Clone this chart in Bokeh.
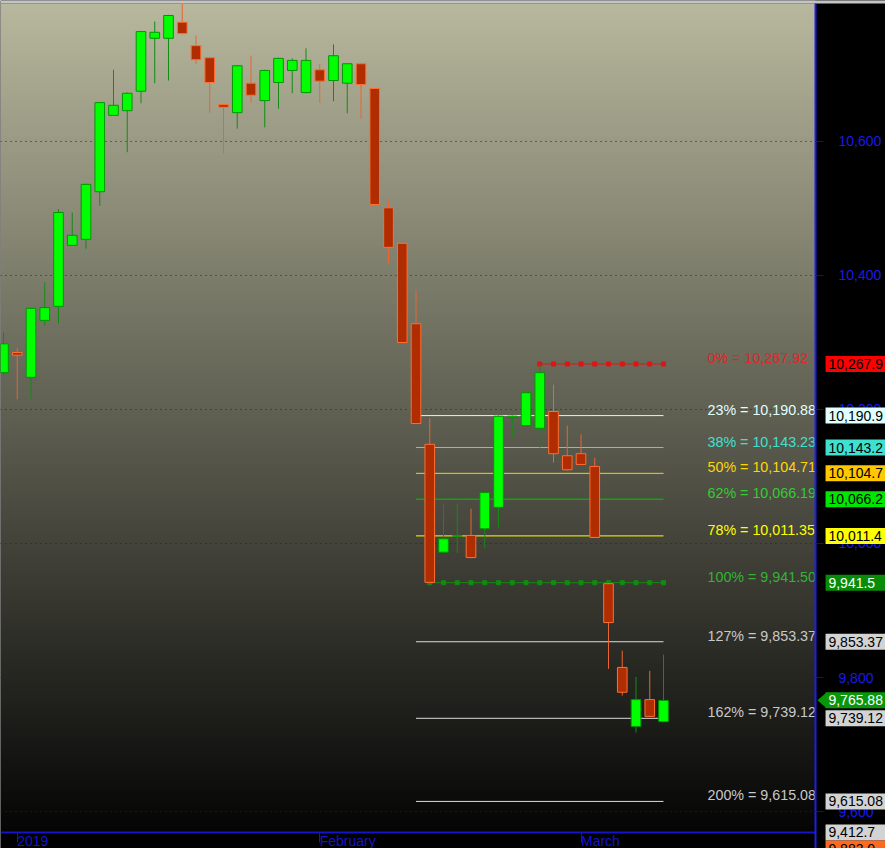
import numpy as np
from bokeh.plotting import figure
from bokeh.models import (Range1d, FixedTicker, NumeralTickFormatter, LinearAxis,
                          ColumnDataSource, Grid)
from bokeh.core.properties import value
from bokeh.embed import file_html
from bokeh.resources import INLINE

# ---------------- data ----------------
opens = [10255, 10285, 10248, 10333, 10354, 10445, 10454, 10525, 10639, 10646,
         10675, 10754, 10754, 10778, 10743, 10725, 10655, 10643, 10687, 10661,
         10688, 10706, 10673, 10707, 10691, 10687, 10716, 10679, 10501, 10448,
         10328, 10148, 9987, 10011, 10012, 10022, 10054, 10188, 10176, 10172,
         10197, 10131, 10134, 10115, 9940, 9815, 9727, 9767, 9734]
highs = [10315, 10292, 10352, 10390, 10499, 10494, 10537, 10659, 10707, 10673,
         10765, 10779, 10789, 10815, 10758, 10726, 10656, 10714, 10728, 10707,
         10725, 10724, 10739, 10716, 10745, 10717, 10717, 10680, 10512, 10449,
         10378, 10187, 10060, 10060, 10052, 10077, 10191, 10191, 10226, 10267.92,
         10237, 10176, 10163, 10128, 9941, 9840, 9801, 9810, 9834]
lows = [10251, 10215, 10216, 10325, 10328, 10444, 10440, 10504, 10638, 10584,
        10657, 10687, 10691, 10760, 10716, 10643, 10582, 10619, 10658, 10621,
        10649, 10672, 10672, 10658, 10660, 10642, 10634, 10505, 10418, 10299,
        10178, 9941.5, 9986, 9986, 9978, 9993, 10024, 10157, 10175, 10143,
        10121, 10109, 10117, 10008, 9813, 9773, 9718, 9741, 9733]
closes = [10298, 10281, 10351, 10352, 10494, 10460, 10536, 10658, 10654, 10672,
          10764, 10763, 10788, 10761, 10722, 10688, 10651, 10713, 10669, 10706,
          10724, 10721, 10721, 10690, 10728, 10716, 10685, 10506, 10442, 10300,
          10179, 9942, 10007, 10011.5, 9979, 10076, 10190, 10190, 10225, 10255,
          10134, 10110, 10118, 10009, 9882, 9778, 9767, 9742, 9765.88]

month_ticks = [1, 23, 42]
month_labels = ["2019", "February", "March"]

price_ticks = [9600, 9800, 10000, 10200, 10400, 10600]

fib_pcts = ["0%", "23%", "38%", "50%", "62%", "78%", "100%", "127%", "162%", "200%"]
fib_values = [10267.92, 10190.88, 10143.23, 10104.71, 10066.19, 10011.35,
              9941.50, 9853.37, 9739.12, 9615.08]
fib_box_texts = ["10,267.9", "10,190.9", "10,143.2", "10,104.7", "10,066.2",
                 "10,011.4", "9,941.5", "9,853.37", "9,739.12", "9,615.08"]
fib_start = [39, 30, 30, 30, 30, 30, 31, 30, 30, 30]
fib_end = [48] * 10
fib_text_colors = ["#dc2828", "#e0ffff", "#40e0d0", "#ffd700", "#32cd32",
                   "#ffff00", "#32b432", "#c8c8c8", "#c8c8c8", "#c8c8c8"]
fib_line_colors = ["#e01414", "#f0f0f0", "#40e0d0", "#e6dc00", "#00c800",
                   "#ffff00", "#108c10", "#dcdcdc", "#dcdcdc", "#dcdcdc"]
fib_box_colors = ["#ff0000", "#e0ffff", "#40e0d0", "#ffc800", "#00e600",
                  "#ffff00", "#088c08", "#d3d3d3", "#d3d3d3", "#d3d3d3"]
fib_box_text_colors = ["black"] * 6 + ["white"] + ["black"] * 3

last_price = 9765.88
last_price_text = "9,765.88"
extra_box_texts = ["9,412.7", "9,883.0"]
extra_box_colors = ["#d3d3d3", "#ff6a20"]

# ---------------- layout constants (style) ----------------
W, H = 885, 848
X_LEFT, X_RIGHT = -0.218, 64.145       # whole canvas, in bar units
CHART_X1 = 59.05                       # price-scale edge
Y_BOTTOM, Y_TOP = 9544.8, 10810.4      # whole canvas, in price units
CHART_Y0, CHART_Y1 = 9568.7, 10806.0   # time-axis line / top strip
FONT = "Liberation Sans"
BLUE = "#1e1ee6"

p = figure(width=W, height=H, x_range=Range1d(X_LEFT, X_RIGHT),
           y_range=Range1d(Y_BOTTOM, Y_TOP), x_axis_location=None,
           y_axis_location=None, output_backend="svg", toolbar_location=None,
           min_border=0, border_fill_color="black",
           background_fill_color="black", outline_line_color=None)
p.center = [r for r in p.center if not isinstance(r, Grid)]

# gradient background of the price pane
N = 256
t = np.linspace(0.0, 1.0, N)[:, None]
top_rgb = np.array([184, 184, 158], dtype=float)
bot_rgb = np.array([5, 5, 5], dtype=float)
rgb = (bot_rgb + (top_rgb - bot_rgb) * t).astype(np.uint8)
img = np.zeros((N, 1), dtype=np.uint32)
view = img.view(dtype=np.uint8).reshape((N, 1, 4))
view[:, 0, 0] = rgb[:, 0]
view[:, 0, 1] = rgb[:, 1]
view[:, 0, 2] = rgb[:, 2]
view[:, 0, 3] = 255
p.image_rgba(image=[img], x=X_LEFT, y=CHART_Y0, dw=CHART_X1 - X_LEFT,
             dh=CHART_Y1 - CHART_Y0, level="image")

# axes (drawn at fixed locations inside the canvas)
yax = LinearAxis(fixed_location=CHART_X1, bounds=(Y_BOTTOM, CHART_Y1))
yax.ticker = FixedTicker(ticks=price_ticks)
yax.formatter = NumeralTickFormatter(format="0,0")
yax.axis_line_color = BLUE
yax.axis_line_width = 2
yax.major_tick_line_color = "#640000"
yax.major_tick_out = 8
yax.major_tick_in = 0
yax.minor_tick_line_color = None
yax.major_label_text_color = "#1a1ae6"
yax.major_label_text_font = FONT
yax.major_label_text_font_size = "14px"
yax.major_label_standoff = 15
p.add_layout(yax, "right")

xax = LinearAxis(fixed_location=CHART_Y0, bounds=(X_LEFT, CHART_X1))
xax.ticker = FixedTicker(ticks=month_ticks)
xax.major_label_overrides = {k: v for k, v in zip(month_ticks, month_labels)}
xax.axis_line_color = "#1414c8"
xax.axis_line_width = 2
xax.major_tick_line_color = "#1414c8"
xax.major_tick_out = 10
xax.major_tick_in = 0
xax.minor_tick_line_color = None
xax.major_label_standoff = -1
xax.major_label_orientation = -0.0001
xax.major_label_text_color = "#1414c8"
xax.major_label_text_font = FONT
xax.major_label_text_font_size = "14px"
p.add_layout(xax, "below")

# dotted price grid
p.segment(x0=[X_LEFT] * len(price_ticks), y0=price_ticks,
          x1=[CHART_X1] * len(price_ticks), y1=price_ticks,
          line_color="#262626", line_dash="1 4", line_width=1, level="underlay")

# fib lines
fib_src = ColumnDataSource(dict(x0=fib_start, x1=fib_end, y=fib_values,
                                color=fib_line_colors))
p.segment(x0="x0", y0="y", x1="x1", y1="y", line_color="color", line_width=1,
          source=fib_src)
for k in (0, 6):
    xs = list(range(fib_start[k], fib_end[k] + 1))
    p.scatter(x=xs, y=[fib_values[k]] * len(xs), marker="square", size=4,
              fill_color=fib_line_colors[k], line_color=fib_line_colors[k])

# candles
idx = list(range(len(opens)))
up = [c >= o for o, c in zip(opens, closes)]
src = ColumnDataSource(dict(
    x=idx, o=opens, h=highs, l=lows, c=closes,
    top=[max(o, c) for o, c in zip(opens, closes)],
    bottom=[min(o, c) for o, c in zip(opens, closes)],
    wick=["#128c12" if u else "#eb6432" for u in up],
    fill=["#00ff00" if u else "#af2d00" for u in up],
    edge=["#009600" if u else "#ff6e32" for u in up],
))
p.segment(x0="x", y0="l", x1="x", y1="h", line_color="wick", line_width=1, source=src)
p.vbar(x="x", width=0.7, top="top", bottom="bottom", fill_color="fill",
       line_color="edge", line_width=1, source=src)

# fib labels inside the price pane
fib_label_texts = [f"{pc} = {v:,.2f}" for pc, v in zip(fib_pcts, fib_values)]
p.text(x=[51.2] * len(fib_values), y=fib_values, text=fib_label_texts,
       text_color=fib_text_colors, text_font=value(FONT), text_font_size="14.3px",
       text_baseline="middle", text_align="left", y_offset=-6)

# black price-scale panel (clips the fib labels at the pane edge)
p.quad(left=CHART_X1, right=X_RIGHT, bottom=Y_BOTTOM, top=Y_TOP,
       fill_color="black", line_color=None)
# black strip under the time axis
p.quad(left=X_LEFT, right=CHART_X1, bottom=Y_BOTTOM, top=CHART_Y0,
       fill_color="black", line_color=None)
# light top strip
p.quad(left=X_LEFT, right=X_RIGHT, bottom=CHART_Y1, top=Y_TOP,
       fill_color="#c4c4c4", line_color=None)

# value boxes on the price scale (drawn above the axis labels)
BOX_CX = 62.33
box_vals = fib_values + [last_price, CHART_Y0, CHART_Y0 - 24.0]
box_texts = fib_box_texts + [last_price_text] + extra_box_texts
box_fill = fib_box_colors + ["#0a960a"] + extra_box_colors
box_tc = fib_box_text_colors + ["white", "black", "black"]
bsrc = ColumnDataSource(dict(y=box_vals, t=box_texts, f=box_fill, tc=box_tc,
                             x=[BOX_CX] * len(box_vals),
                             xt=[CHART_X1] * len(box_vals)))
p.rect(x="x", y="y", width=70, height=16, width_units="screen",
       height_units="screen", fill_color="f", line_color=None, source=bsrc,
       level="overlay")
p.patch(x=[CHART_X1 + 0.15, CHART_X1 + 0.8, CHART_X1 + 0.8],
        y=[last_price, last_price + 11.9, last_price - 11.9],
        fill_color="#0a960a", line_color=None, level="overlay")
p.text(x="xt", y="y", text="t", text_color="tc", text_font=value(FONT),
       text_font_size="14px", text_baseline="middle", text_align="left",
       x_offset=13, source=bsrc, level="overlay")

open("out.html", "w").write(file_html(p, INLINE))
